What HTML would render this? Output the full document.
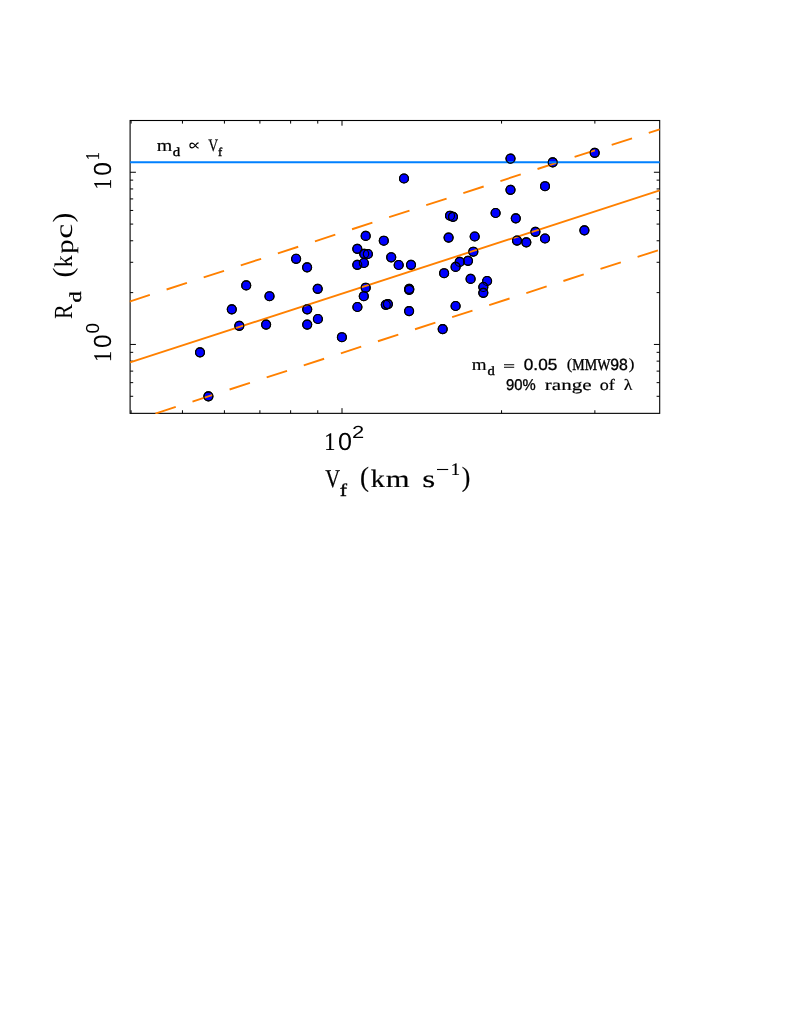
<!DOCTYPE html>
<html><head><title>R_d vs V_f</title><meta charset="utf-8"><style>html,body{margin:0;padding:0;background:#fff;overflow:hidden}svg{display:block;will-change:transform}text{font-kerning:none;text-rendering:geometricPrecision}</style></head><body><svg width="790" height="1022" viewBox="0 0 790 1022">
<rect width="790" height="1022" fill="#fff"/>
<defs><clipPath id="c"><rect x="129.54999999999998" y="119.95" width="531.00" height="293.95"/></clipPath></defs>
<path d="M182.45 413.35v-3.1M182.45 120.5v3.1M224.42 413.35v-3.1M224.42 120.5v3.1M259.90 413.35v-3.1M259.90 120.5v3.1M290.64 413.35v-3.1M290.64 120.5v3.1M317.75 413.35v-3.1M317.75 120.5v3.1M501.55 413.35v-3.1M501.55 120.5v3.1M594.87 413.35v-3.1M594.87 120.5v3.1M131.09 413.35v-3.1M131.09 120.5v3.1M342.00 413.35v-5.2M342.00 120.5v5.2M130.1 396.29h3.1M659.7 396.29h-3.1M130.1 382.65h3.1M659.7 382.65h-3.1M130.1 371.12h3.1M659.7 371.12h-3.1M130.1 361.14h3.1M659.7 361.14h-3.1M130.1 352.33h3.1M659.7 352.33h-3.1M130.1 292.61h3.1M659.7 292.61h-3.1M130.1 262.29h3.1M659.7 262.29h-3.1M130.1 240.78h3.1M659.7 240.78h-3.1M130.1 224.09h3.1M659.7 224.09h-3.1M130.1 210.45h3.1M659.7 210.45h-3.1M130.1 198.92h3.1M659.7 198.92h-3.1M130.1 188.94h3.1M659.7 188.94h-3.1M130.1 180.13h3.1M659.7 180.13h-3.1M130.1 344.45h5.8M659.7 344.45h-5.8M130.1 172.25h5.8M659.7 172.25h-5.8" stroke="#000" stroke-width="1" fill="none"/>
<rect x="130.1" y="120.5" width="529.6" height="292.85" fill="none" stroke="#000" stroke-width="1.1"/>
<g clip-path="url(#c)">
<g fill="#0000ff" stroke="#000" stroke-width="1.15">
<circle cx="200.0" cy="352.3" r="4.5"/>
<circle cx="208.4" cy="396.3" r="4.5"/>
<circle cx="231.8" cy="309.3" r="4.5"/>
<circle cx="239.3" cy="325.8" r="4.5"/>
<circle cx="246.2" cy="285.4" r="4.5"/>
<circle cx="266.1" cy="324.6" r="4.5"/>
<circle cx="269.5" cy="296.2" r="4.5"/>
<circle cx="296.1" cy="258.8" r="4.5"/>
<circle cx="307.1" cy="267.3" r="4.5"/>
<circle cx="307.2" cy="309.3" r="4.5"/>
<circle cx="307.2" cy="324.6" r="4.5"/>
<circle cx="317.7" cy="288.8" r="4.5"/>
<circle cx="317.9" cy="319.0" r="4.5"/>
<circle cx="341.9" cy="337.2" r="4.5"/>
<circle cx="365.7" cy="235.9" r="4.5"/>
<circle cx="383.8" cy="240.7" r="4.5"/>
<circle cx="357.3" cy="248.8" r="4.5"/>
<circle cx="364.2" cy="253.8" r="4.5"/>
<circle cx="367.9" cy="254.0" r="4.5"/>
<circle cx="391.2" cy="257.3" r="4.5"/>
<circle cx="357.3" cy="264.8" r="4.5"/>
<circle cx="363.9" cy="263.0" r="4.5"/>
<circle cx="398.7" cy="265.0" r="4.5"/>
<circle cx="411.0" cy="264.8" r="4.5"/>
<circle cx="365.7" cy="287.7" r="4.5"/>
<circle cx="363.8" cy="296.2" r="4.5"/>
<circle cx="357.4" cy="307.0" r="4.5"/>
<circle cx="385.8" cy="304.8" r="4.5"/>
<circle cx="387.9" cy="304.1" r="4.5"/>
<circle cx="409.2" cy="288.8" r="4.5"/>
<circle cx="409.2" cy="289.8" r="4.5"/>
<circle cx="409.1" cy="311.1" r="4.5"/>
<circle cx="404.0" cy="178.5" r="4.5"/>
<circle cx="450.0" cy="215.7" r="4.5"/>
<circle cx="453.0" cy="216.8" r="4.5"/>
<circle cx="448.6" cy="237.6" r="4.5"/>
<circle cx="474.7" cy="236.5" r="4.5"/>
<circle cx="473.3" cy="251.7" r="4.5"/>
<circle cx="468.0" cy="260.8" r="4.5"/>
<circle cx="459.7" cy="261.9" r="4.5"/>
<circle cx="455.6" cy="266.9" r="4.5"/>
<circle cx="444.1" cy="273.2" r="4.5"/>
<circle cx="470.6" cy="278.9" r="4.5"/>
<circle cx="487.1" cy="281.0" r="4.5"/>
<circle cx="483.3" cy="287.0" r="4.5"/>
<circle cx="483.3" cy="292.8" r="4.5"/>
<circle cx="455.6" cy="306.0" r="4.5"/>
<circle cx="442.7" cy="329.1" r="4.5"/>
<circle cx="495.6" cy="213.0" r="4.5"/>
<circle cx="510.5" cy="158.6" r="4.5"/>
<circle cx="552.7" cy="162.3" r="4.5"/>
<circle cx="594.7" cy="152.8" r="4.5"/>
<circle cx="510.5" cy="189.8" r="4.5"/>
<circle cx="545.0" cy="186.2" r="4.5"/>
<circle cx="515.8" cy="218.3" r="4.5"/>
<circle cx="535.4" cy="231.8" r="4.5"/>
<circle cx="584.4" cy="230.3" r="4.5"/>
<circle cx="545.0" cy="238.5" r="4.5"/>
<circle cx="517.0" cy="240.6" r="4.5"/>
<circle cx="526.3" cy="242.3" r="4.5"/>
</g>
<line x1="130.10" y1="362.47" x2="659.7" y2="190.40" stroke="#ff8000" stroke-width="1.9"/>
<line x1="129.50" y1="301.56" x2="659.7" y2="129.30" stroke="#ff8000" stroke-width="1.9" stroke-dasharray="21.4 17.6"/>
<line x1="155.40" y1="413.58" x2="659.7" y2="249.73" stroke="#ff8000" stroke-width="1.9" stroke-dasharray="21.4 17.6"/>
<line x1="130.1" y1="162.2" x2="659.7" y2="162.2" stroke="#0080ff" stroke-width="1.9"/>
<g fill="none" stroke="#000" stroke-width="1.15">
<circle cx="200.0" cy="352.3" r="4.5"/>
<circle cx="208.4" cy="396.3" r="4.5"/>
<circle cx="231.8" cy="309.3" r="4.5"/>
<circle cx="239.3" cy="325.8" r="4.5"/>
<circle cx="246.2" cy="285.4" r="4.5"/>
<circle cx="266.1" cy="324.6" r="4.5"/>
<circle cx="269.5" cy="296.2" r="4.5"/>
<circle cx="296.1" cy="258.8" r="4.5"/>
<circle cx="307.1" cy="267.3" r="4.5"/>
<circle cx="307.2" cy="309.3" r="4.5"/>
<circle cx="307.2" cy="324.6" r="4.5"/>
<circle cx="317.7" cy="288.8" r="4.5"/>
<circle cx="317.9" cy="319.0" r="4.5"/>
<circle cx="341.9" cy="337.2" r="4.5"/>
<circle cx="365.7" cy="235.9" r="4.5"/>
<circle cx="383.8" cy="240.7" r="4.5"/>
<circle cx="357.3" cy="248.8" r="4.5"/>
<circle cx="364.2" cy="253.8" r="4.5"/>
<circle cx="367.9" cy="254.0" r="4.5"/>
<circle cx="391.2" cy="257.3" r="4.5"/>
<circle cx="357.3" cy="264.8" r="4.5"/>
<circle cx="363.9" cy="263.0" r="4.5"/>
<circle cx="398.7" cy="265.0" r="4.5"/>
<circle cx="411.0" cy="264.8" r="4.5"/>
<circle cx="365.7" cy="287.7" r="4.5"/>
<circle cx="363.8" cy="296.2" r="4.5"/>
<circle cx="357.4" cy="307.0" r="4.5"/>
<circle cx="385.8" cy="304.8" r="4.5"/>
<circle cx="387.9" cy="304.1" r="4.5"/>
<circle cx="409.2" cy="288.8" r="4.5"/>
<circle cx="409.2" cy="289.8" r="4.5"/>
<circle cx="409.1" cy="311.1" r="4.5"/>
<circle cx="404.0" cy="178.5" r="4.5"/>
<circle cx="450.0" cy="215.7" r="4.5"/>
<circle cx="453.0" cy="216.8" r="4.5"/>
<circle cx="448.6" cy="237.6" r="4.5"/>
<circle cx="474.7" cy="236.5" r="4.5"/>
<circle cx="473.3" cy="251.7" r="4.5"/>
<circle cx="468.0" cy="260.8" r="4.5"/>
<circle cx="459.7" cy="261.9" r="4.5"/>
<circle cx="455.6" cy="266.9" r="4.5"/>
<circle cx="444.1" cy="273.2" r="4.5"/>
<circle cx="470.6" cy="278.9" r="4.5"/>
<circle cx="487.1" cy="281.0" r="4.5"/>
<circle cx="483.3" cy="287.0" r="4.5"/>
<circle cx="483.3" cy="292.8" r="4.5"/>
<circle cx="455.6" cy="306.0" r="4.5"/>
<circle cx="442.7" cy="329.1" r="4.5"/>
<circle cx="495.6" cy="213.0" r="4.5"/>
<circle cx="510.5" cy="158.6" r="4.5"/>
<circle cx="552.7" cy="162.3" r="4.5"/>
<circle cx="594.7" cy="152.8" r="4.5"/>
<circle cx="510.5" cy="189.8" r="4.5"/>
<circle cx="545.0" cy="186.2" r="4.5"/>
<circle cx="515.8" cy="218.3" r="4.5"/>
<circle cx="535.4" cy="231.8" r="4.5"/>
<circle cx="584.4" cy="230.3" r="4.5"/>
<circle cx="545.0" cy="238.5" r="4.5"/>
<circle cx="517.0" cy="240.6" r="4.5"/>
<circle cx="526.3" cy="242.3" r="4.5"/>
</g>
</g>
<text transform="translate(324.14,450.10) scale(1.1149,1.2649)" font-family="Liberation Serif" font-size="20.0" stroke="#000" stroke-width="0.168" stroke-linejoin="round" >1</text>
<text transform="translate(338.02,450.26) scale(1.2552,1.2288)" font-family="Liberation Sans" font-size="20.0" >0</text>
<text transform="translate(352.10,437.70) scale(1.0975,0.8736)" font-family="Liberation Sans" font-size="20.0" >2</text>
<text transform="translate(325.17,486.91) scale(1.0290,1.2837)" font-family="Liberation Serif" font-size="20.0" stroke="#000" stroke-width="0.173" stroke-linejoin="round" >V</text>
<text transform="translate(339.83,495.60) scale(1.0918,0.8948)" font-family="Liberation Serif" font-size="20.0" stroke="#000" stroke-width="0.403" stroke-linejoin="round" >f</text>
<text transform="translate(359.92,486.28) scale(1.3433,1.3896)" font-family="Liberation Serif" font-size="20.0" stroke="#000" stroke-width="0.146" stroke-linejoin="round" >(</text>
<text transform="translate(370.67,487.10) scale(1.4035,1.2539)" font-family="Liberation Serif" font-size="20.0" stroke="#000" stroke-width="0.151" stroke-linejoin="round" >k</text>
<text transform="translate(385.76,487.10) scale(1.5313,1.2097)" font-family="Liberation Serif" font-size="20.0" stroke="#000" stroke-width="0.146" stroke-linejoin="round" >m</text>
<text transform="translate(422.13,487.16) scale(1.6666,1.2163)" font-family="Liberation Serif" font-size="20.0" stroke="#000" stroke-width="0.139" stroke-linejoin="round" >s</text>
<path d="M437 469.5H448.2" stroke="#000" stroke-width="1.1"/>
<text transform="translate(450.65,474.60) scale(0.9374,0.8786)" font-family="Liberation Serif" font-size="20.0" stroke="#000" stroke-width="0.220" stroke-linejoin="round" >1</text>
<text transform="translate(461.87,486.28) scale(1.2849,1.3896)" font-family="Liberation Serif" font-size="20.0" stroke="#000" stroke-width="0.150" stroke-linejoin="round" >)</text>
<g transform="translate(111.30,188.00) rotate(-90)"><text transform="translate(-1.85,-0.10) scale(1.1078,1.2800)" font-family="Liberation Serif" font-size="20.0" stroke="#000" stroke-width="0.168" stroke-linejoin="round" >1</text></g>
<g transform="translate(111.30,174.90) rotate(-90)"><text transform="translate(-0.96,-0.04) scale(1.2238,1.2359)" font-family="Liberation Sans" font-size="20.0" >0</text></g>
<g transform="translate(99.10,159.00) rotate(-90)"><text transform="translate(-1.35,-0.10) scale(0.8237,0.9770)" font-family="Liberation Serif" font-size="20.0" stroke="#000" stroke-width="0.222" stroke-linejoin="round" >1</text></g>
<g transform="translate(111.30,360.15) rotate(-90)"><text transform="translate(-1.83,-0.10) scale(1.1007,1.2800)" font-family="Liberation Serif" font-size="20.0" stroke="#000" stroke-width="0.168" stroke-linejoin="round" >1</text></g>
<g transform="translate(111.30,347.05) rotate(-90)"><text transform="translate(-0.95,-0.04) scale(1.2185,1.2359)" font-family="Liberation Sans" font-size="20.0" >0</text></g>
<g transform="translate(99.10,332.70) rotate(-90)"><text transform="translate(-0.74,-0.08) scale(0.9414,0.9393)" font-family="Liberation Sans" font-size="20.0" >0</text></g>
<g transform="translate(72.40,318.30) rotate(-90)"><text transform="translate(-0.63,0.00) scale(1.0994,1.3058)" font-family="Liberation Serif" font-size="20.0" >R</text></g>
<g transform="translate(81.30,301.80) rotate(-90)"><text transform="translate(-0.61,-0.16) scale(1.1181,0.8385)" font-family="Liberation Serif" font-size="20.0" stroke="#000" stroke-width="0.409" stroke-linejoin="round" >d</text></g>
<g transform="translate(72.40,276.30) rotate(-90)"><text transform="translate(-1.30,-0.86) scale(1.4795,1.4006)" font-family="Liberation Serif" font-size="20.0" >(</text></g>
<g transform="translate(72.40,266.80) rotate(-90)"><text transform="translate(-0.46,0.00) scale(1.1955,1.2683)" font-family="Liberation Serif" font-size="20.0" >k</text></g>
<g transform="translate(72.40,253.40) rotate(-90)"><text transform="translate(-0.46,0.11) scale(1.4275,1.2425)" font-family="Liberation Serif" font-size="20.0" >p</text></g>
<g transform="translate(72.40,237.50) rotate(-90)"><text transform="translate(-1.29,0.06) scale(1.6933,1.2371)" font-family="Liberation Serif" font-size="20.0" >c</text></g>
<g transform="translate(72.40,221.60) rotate(-90)"><text transform="translate(-0.95,-0.86) scale(1.4795,1.4006)" font-family="Liberation Serif" font-size="20.0" >)</text></g>
<text transform="translate(156.78,150.80) scale(0.9984,0.8595)" font-family="Liberation Serif" font-size="20.0" stroke="#000" stroke-width="0.215" stroke-linejoin="round" >m</text>
<text transform="translate(172.76,155.88) scale(0.7417,0.6111)" font-family="Liberation Serif" font-size="20.0" stroke="#000" stroke-width="0.591" stroke-linejoin="round" >d</text>
<path d="M198.6 142.9C197 142.9 196.2 144.3 195.3 145.5C194.4 146.8 193.5 147.9 192.1 147.9C190.7 147.9 189.9 146.8 189.9 145.5C189.9 144.2 190.7 143.1 192.1 143.1C193.5 143.1 194.4 144.2 195.3 145.5C196.2 146.7 197 148.1 198.6 148.1" fill="none" stroke="#000" stroke-width="1.15"/>
<text transform="translate(208.15,150.64) scale(0.6860,0.8732)" font-family="Liberation Serif" font-size="20.0" stroke="#000" stroke-width="0.257" stroke-linejoin="round" >V</text>
<text transform="translate(218.01,155.90) scale(0.6286,0.6036)" font-family="Liberation Serif" font-size="20.0" stroke="#000" stroke-width="0.649" stroke-linejoin="round" >f</text>
<text transform="translate(471.80,370.10) scale(0.9511,0.8489)" font-family="Liberation Serif" font-size="20.0" stroke="#000" stroke-width="0.222" stroke-linejoin="round" >m</text>
<text transform="translate(487.47,375.38) scale(0.7306,0.6396)" font-family="Liberation Serif" font-size="20.0" stroke="#000" stroke-width="0.584" stroke-linejoin="round" >d</text>
<path d="M504 364.7H514.2M504 367.3H514.2" stroke="#000" stroke-width="1.05"/>
<text transform="translate(523.80,369.97) scale(0.8591,0.8086)" font-family="Liberation Sans" font-size="20.0" stroke="#000" stroke-width="0.420" stroke-linejoin="round" >0.05</text>
<text transform="translate(566.66,369.39) scale(0.8371,0.7775)" font-family="Liberation Serif" font-size="20.0" stroke="#000" stroke-width="0.248" stroke-linejoin="round" >(</text>
<text transform="translate(572.37,369.78) scale(0.6976,0.8173)" font-family="Liberation Serif" font-size="20.0" stroke="#000" stroke-width="0.462" stroke-linejoin="round" >MMW</text>
<text transform="translate(610.33,369.97) scale(0.7901,0.8086)" font-family="Liberation Sans" font-size="20.0" stroke="#000" stroke-width="0.438" stroke-linejoin="round" >98</text>
<text transform="translate(628.65,369.39) scale(0.8566,0.7775)" font-family="Liberation Serif" font-size="20.0" stroke="#000" stroke-width="0.245" stroke-linejoin="round" >)</text>
<text transform="translate(506.08,390.27) scale(0.7413,0.7804)" font-family="Liberation Sans" font-size="20.0" stroke="#000" stroke-width="0.460" stroke-linejoin="round" >90%</text>
<text transform="translate(544.78,390.47) scale(1.0526,0.7956)" font-family="Liberation Serif" font-size="20.0" stroke="#000" stroke-width="0.216" stroke-linejoin="round" >range</text>
<text transform="translate(599.71,390.25) scale(0.9057,0.7915)" font-family="Liberation Serif" font-size="20.0" stroke="#000" stroke-width="0.236" stroke-linejoin="round" >of</text>
<text transform="translate(623.83,390.40) scale(0.8938,0.7882)" font-family="Liberation Serif" font-size="20.0" stroke="#000" stroke-width="0.238" stroke-linejoin="round" >λ</text>
</svg></body></html>
